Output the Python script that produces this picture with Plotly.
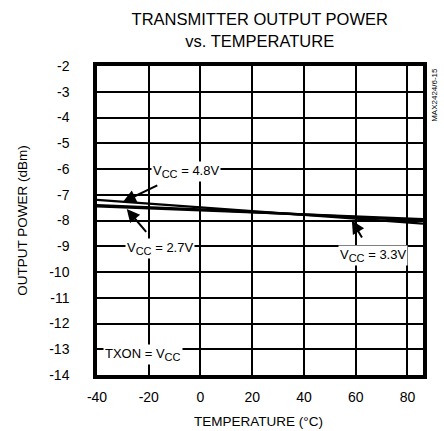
import plotly.graph_objects as go

temperature = [-40, -20, 0, 20, 40, 60, 86]
vcc_48 = [-7.20, -7.34, -7.48, -7.63, -7.78, -7.93, -8.12]
vcc_27 = [-7.45, -7.52, -7.60, -7.68, -7.76, -7.84, -7.95]
vcc_33 = [-7.40, -7.48, -7.57, -7.67, -7.77, -7.87, -8.00]

x_ticks = [-40, -20, 0, 20, 40, 60, 80]
x_labels = ["-40", "-20", "0", "20", "40", "60", "80"]
y_ticks = list(range(-14, -1))
y_labels = ["-14", "-13", "-12", "-11", "-10", "-9", "-8", "-7", "-6", "-5", "-4", "-3", "-2"]

FONT = "Liberation Sans, Arial, sans-serif"
VCC = "V<sub><span style='font-size:11px'>CC</span></sub>"

fig = go.Figure()
for name, ys in [("VCC = 4.8V", vcc_48), ("VCC = 2.7V", vcc_27), ("VCC = 3.3V", vcc_33)]:
    fig.add_trace(go.Scatter(x=temperature, y=ys, mode="lines", name=name,
                             line=dict(color="black", width=2.3), showlegend=False))

ann_font = dict(family=FONT, size=13, color="black")
annotations = [
    dict(x=-30, y=-7.28, ax=-5.5, ay=-6.1, text=VCC + " = 4.8V"),
    dict(x=-28.5, y=-7.55, ax=-15.5, ay=-9.1, text=VCC + " = 2.7V"),
    dict(x=58.5, y=-8.0, ax=66.5, ay=-9.35, text=VCC + " = 3.3V"),
]
for a in annotations:
    fig.add_annotation(x=a["x"], y=a["y"], ax=a["ax"], ay=a["ay"], xref="x", yref="y",
                       axref="x", ayref="y", text=a["text"], showarrow=True,
                       arrowhead=2, arrowsize=1.3, arrowwidth=2, arrowcolor="black",
                       font=ann_font, bgcolor="white", borderpad=1, standoff=0, startstandoff=9)

fig.add_annotation(x=-22.2, y=-13.2, xref="x", yref="y", text="TXON = " + VCC,
                   showarrow=False, font=ann_font, bgcolor="white", borderpad=1)

fig.add_annotation(x=1.0, y=0.905, xref="paper", yref="paper", text="MAX2424/6-15",
                   xanchor="left", yanchor="middle", xshift=5,
                   showarrow=False, textangle=-90, font=dict(family=FONT, size=8, color="black"))

# x-axis title placed as paper annotation for precise positioning
fig.add_annotation(x=0.494, y=-0.152, xref="paper", yref="paper", text="TEMPERATURE (°C)",
                   xanchor="center", yanchor="middle", showarrow=False,
                   font=dict(family=FONT, size=13.5, color="black"))

fig.update_layout(
    width=444, height=431,
    margin=dict(l=97, r=21, t=66, b=56),
    paper_bgcolor="white", plot_bgcolor="white",
    title=dict(text="TRANSMITTER OUTPUT POWER<br>vs. TEMPERATURE", x=0.585, xanchor="center",
               y=0.941, yanchor="top", font=dict(family=FONT, size=16.5, color="black")),
    font=dict(family=FONT, color="black"),
)

fig.update_xaxes(range=[-40, 86], tickvals=x_ticks, ticktext=x_labels, ticks="", showgrid=True,
                 gridcolor="black", gridwidth=1.5, zeroline=False, automargin=False,
                 showline=True, linecolor="black", linewidth=3.5, mirror=True,
                 tickfont=dict(family=FONT, size=14), ticklabelstandoff=6)
fig.update_yaxes(range=[-14, -2], tickvals=y_ticks, ticktext=y_labels, ticks="", showgrid=True,
                 gridcolor="black", gridwidth=1.5, zeroline=False, automargin=False,
                 showline=True, linecolor="black", linewidth=3.5, mirror=True,
                 tickfont=dict(family=FONT, size=14), ticklabelstandoff=21,
                 title=dict(text="OUTPUT POWER (dBm)", font=dict(family=FONT, size=13.5), standoff=19))

fig.write_html("out.html", config={"displayModeBar": False},
               post_script="document.body.style.margin='0';document.body.style.overflow='hidden';")
